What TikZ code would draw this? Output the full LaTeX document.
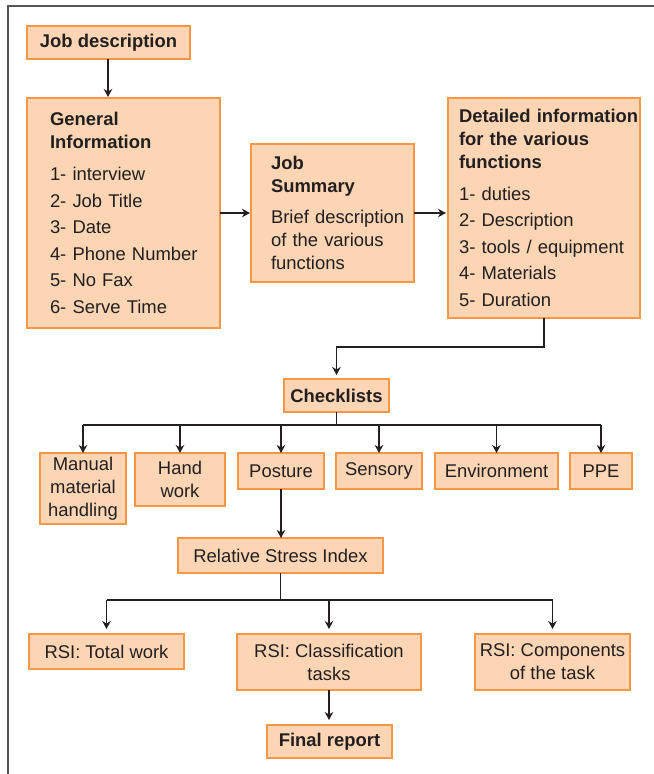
\documentclass[tikz,border=0pt]{standalone}
\usepackage{fontspec}
\setmainfont{Liberation Sans}
\usetikzlibrary{arrows.meta,calc}
\definecolor{boxfill}{HTML}{FCD5B5}
\definecolor{boxline}{HTML}{F79646}
\definecolor{ink}{HTML}{231F20}
\definecolor{frame}{HTML}{555555}
\tikzset{
  box/.style={draw=boxline, fill=boxfill, line width=1.3bp, rectangle, outer sep=0pt,
    inner ysep=0pt, text=ink, font=\fontsize{18.5}{23}\selectfont, anchor=north west},
  lbox/.style={box, align=left, inner xsep=0pt},
  cbox/.style={box, align=center},
  arr/.style={draw=ink, line width=1.8bp, -{Stealth[length=8bp,width=8.5bp,inset=2.5bp]}},
  conn/.style={draw=ink, line width=1.8bp},
}
\begin{document}
\begin{tikzpicture}[x=1bp,y=-1bp]
\useasboundingbox (0,0) rectangle (654,774);
\draw[frame, line width=2bp] (7.5,774) -- (7.5,6.5) -- (654,6.5);

% top boxes
\node[cbox, minimum width=163bp, minimum height=33bp] (jd) at (27,26) {\textbf{Job description}};
\node[lbox, minimum width=193bp, minimum height=230bp, text width=193bp] (gen) at (27,98)
 {\leftskip=23bp\hyphenpenalty=10000
  \textbf{General}\\\textbf{Information}\\[9bp]
  1- interview\\[3.6bp] 2- Job Title\\[3.6bp] 3- Date\\[3.6bp] 4- Phone Number\\[3.6bp] 5- No Fax\\[3.6bp] 6- Serve Time\par};
\node[lbox, minimum width=163bp, minimum height=138bp, text width=163bp] (sum) at (251,144)
 {\leftskip=20bp\hyphenpenalty=10000
  \textbf{Job}\\\textbf{Summary}\\[8bp]
  Brief description\\ of the various\\ functions\par};
\node[lbox, minimum width=192bp, minimum height=220bp, text width=192bp] (det) at (448,98)
 {\leftskip=11bp\hyphenpenalty=10000
  \textbf{Detailed information}\\\textbf{for the various}\\\textbf{functions}\\[9bp]
  1- duties\\[3.6bp] 2- Description\\[3.6bp] 3- tools / equipment\\[3.6bp] 4- Materials\\[3.6bp] 5- Duration\par};

\node[cbox, minimum width=105bp, minimum height=33bp] (chk) at (284,379) {\textbf{Checklists}};

\node[cbox, minimum width=86bp, minimum height=71bp, inner xsep=0pt] (man) at (40,453) {Manual\\material\\handling};
\node[cbox, minimum width=90bp, minimum height=53bp, inner xsep=0pt] (hand) at (135,453) {Hand\\work};
\node[cbox, minimum width=86bp, minimum height=36bp, inner xsep=0pt] (post) at (238,453) {Posture};
\node[cbox, minimum width=86bp, minimum height=36bp, inner xsep=0pt] (sens) at (336,453) {Sensory};
\node[cbox, minimum width=123bp, minimum height=36bp, inner xsep=0pt] (env) at (435,453) {Environment};
\node[cbox, minimum width=62bp, minimum height=36bp, inner xsep=0pt] (ppe) at (570,453) {PPE};

\node[cbox, minimum width=205bp, minimum height=35bp, inner xsep=0pt] (rsi) at (178,538) {Relative Stress Index};

\node[cbox, minimum width=155bp, minimum height=35bp, inner xsep=0pt] (tot) at (29,634) {RSI: Total work};
\node[cbox, minimum width=184bp, minimum height=56bp, inner xsep=0pt] (cls) at (237,634) {RSI: Classification\\tasks};
\node[cbox, minimum width=155bp, minimum height=56bp, inner xsep=0pt] (comp) at (475,634) {RSI: Components\\of the task};

\node[cbox, minimum width=125bp, minimum height=33bp] (fin) at (267,725) {\textbf{Final report}};

% connectors
\coordinate (j1) at (0,347);
\coordinate (b1) at (0,425);
\coordinate (b2) at (0,600);

\draw[arr, shorten >=1bp] ([xshift=-0.5bp]jd.south) -- ([xshift=-0.5bp]jd.south |- gen.north);
\draw[arr, shorten >=1bp] (gen.east |- sum.west) -- (sum.west);
\draw[arr, shorten >=2bp] (sum.east) -- (sum.east -| det.west);
\draw[arr, shorten >=4bp] (det.south) -- (det.south |- j1) -| (chk.north);

\draw[conn] (chk.south) -- (chk.south |- b1);
\draw[conn] (man.north |- b1) -- (ppe.north |- b1);
\foreach \n in {man,hand,post,sens,env,ppe}
  \draw[arr] (\n.north |- b1) -- (\n.north);

\draw[arr] (post.south) -- (post.south |- rsi.north);

\draw[conn] (rsi.south) -- (rsi.south |- b2);
\draw[conn] (tot.north |- b2) -- (comp.north |- b2);
\foreach \n in {tot,cls,comp}
  \draw[arr, shorten >=5bp] (\n.north |- b2) -- (\n.north);

\draw[arr, shorten >=5bp] (cls.south) -- (cls.south |- fin.north);
\end{tikzpicture}
\end{document}
